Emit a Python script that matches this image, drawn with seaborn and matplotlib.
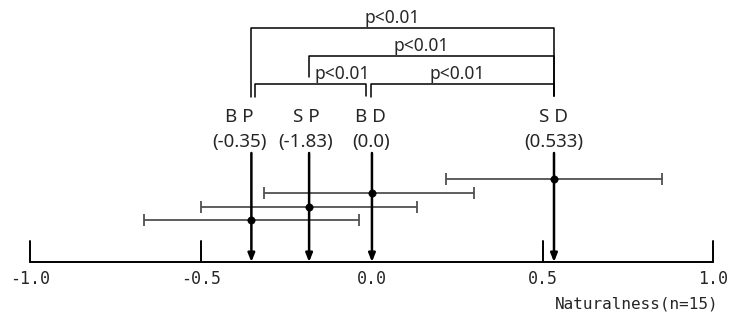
import matplotlib
matplotlib.use("Agg")
import matplotlib.pyplot as plt
import seaborn as sns
import pandas as pd

# values
conditions = ["B P", "S P", "B D", "S D"]
means = [-0.353, -0.184, 0.0, 0.533]
mean_labels = ["(-0.35)", "(-1.83)", "(0.0)", "(0.533)"]
ci_low = [-0.668, -0.50, -0.316, 0.217]
ci_high = [-0.038, 0.132, 0.299, 0.849]
tick_values = [-1.0, -0.5, 0.0, 0.5, 1.0]
tick_labels = ["-1.0", "-0.5", "0.0", "0.5", "1.0"]
# significant pairs (index a, index b, label)
pairs = [(0, 3, "p<0.01"), (1, 3, "p<0.01"), (0, 2, "p<0.01"), (2, 3, "p<0.01")]

df = pd.DataFrame({"cond": conditions, "mean": means, "lo": ci_low, "hi": ci_high})

sns.set_style("white")
plt.rcParams["font.family"] = ["Noto Sans", "DejaVu Sans"]
mono = ["DejaVu Sans Mono"]

fig = plt.figure(figsize=(7.29, 3.22), dpi=100)
ax = fig.add_axes([0, 0, 1, 1])

axis_y = 262
# error bars, stacked upward
df["y"] = [220, 207, 193, 179]
for _, r in df.iterrows():
    ax.errorbar(r["mean"], r["y"], xerr=[[r["mean"] - r["lo"]], [r["hi"] - r["mean"]]],
                fmt="none", ecolor="#505050", elinewidth=1.3, capsize=4.5, capthick=1.3)
sns.scatterplot(data=df, x="mean", y="y", color="black", s=28, ax=ax, zorder=5, edgecolor="black")

ax.set_xlim(-1.089, 1.0454)
ax.set_ylim(322, 0)
ax.axis("off")

# horizontal axis line and ticks
ax.plot([tick_values[0], tick_values[-1]], [axis_y, axis_y], color="black", lw=1.4)
for v, lab in zip(tick_values, tick_labels):
    if v != 0.0:
        ax.plot([v, v], [axis_y, 241], color="black", lw=1.4)
    ax.text(v, 279, lab, ha="center", va="center", fontsize=12, family=mono)
ax.text(tick_values[-1] + 0.015, 304, "Naturalness(n=15)", ha="right", va="center",
        fontsize=11.5, family=mono)

# arrows pointing at the axis, with labels (labels sit slightly left of some arrows)
label_shift = [-0.035, -0.009, -0.003, 0.0]
for m, name, ml, sh in zip(means, conditions, mean_labels, label_shift):
    ax.annotate("", xy=(m, axis_y), xytext=(m, 153),
                arrowprops=dict(arrowstyle="-|>,head_length=0.5,head_width=0.2", color="black", lw=1.8,
                                shrinkA=0, shrinkB=0))
    ax.text(m + sh, 117, name, ha="center", va="center", fontsize=13.5)
    ax.text(m + sh, 142, ml, ha="center", va="center", fontsize=13.5)

# significance brackets
bracket_y = [28, 56, 84, 84]
left_off = [-0.002, 0.0, 0.01, -0.003]
right_off = [0.0, 0.0, -0.018, 0.0]
left_bottom = [97, 77, 97, 97]
label_x = [0.06, 0.143, -0.088, 0.25]
for (a, b, lab), by, lo, ro, lb, lx in zip(pairs, bracket_y, left_off, right_off, left_bottom, label_x):
    xa, xb = means[a] + lo, means[b] + ro
    ax.plot([xa, xa, xb, xb], [lb, by, by, 96], color="black", lw=1.1)
    ax.text(lx, by - 1, lab, ha="center", va="bottom", fontsize=12.5)

fig.savefig("out.png", dpi=100)
